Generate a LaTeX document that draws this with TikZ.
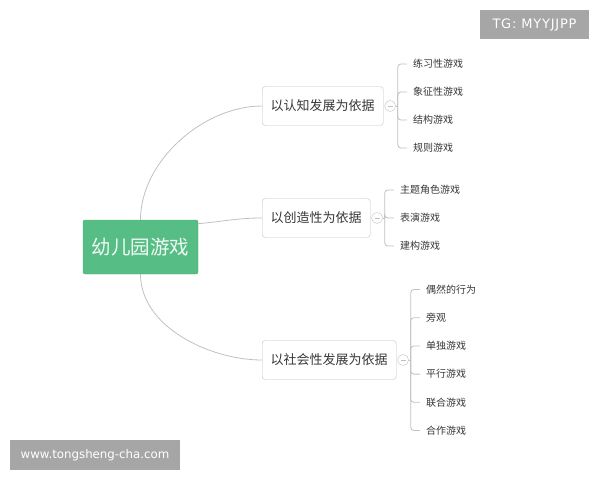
\documentclass[tikz,border=0pt]{standalone}
\usepackage{fontspec}
\newfontfamily\cjk{Noto Sans CJK SC}
\newfontfamily\wmfont{DejaVu Sans}
\usetikzlibrary{positioning}
\definecolor{rootgreen}{RGB}{86,189,133}
\definecolor{linegray}{RGB}{192,192,192}
\definecolor{textgray}{RGB}{55,55,55}
\definecolor{stampgray}{RGB}{166,166,166}

\begin{document}
\begin{tikzpicture}[x=1pt,y=-1pt,
  root/.style={fill=rootgreen,draw=rootgreen!92!black,rounded corners=2pt,
    text=white!92!rootgreen,font=\cjk\fontsize{19.5}{20}\selectfont,
    minimum width=115pt,minimum height=54pt},
  branch/.style={draw=linegray,rounded corners=3pt,fill=white,text=textgray,
    font=\cjk\fontsize{13}{13}\selectfont,minimum height=39pt,inner xsep=8.5pt},
  leaf/.style={anchor=west,text=textgray,font=\cjk\fontsize{10}{10}\selectfont,inner sep=1pt},
  fold/.style={circle,draw=linegray,inner sep=0pt,minimum size=11pt},
  link/.style={draw=linegray,line width=0.8pt},
  stamp/.style={fill=stampgray,text=white,inner sep=0pt}]
\useasboundingbox (0,0) rectangle (600,480);

% centre and the three groups
\node[root] (root) at (140.5,247) {幼儿园游戏};
\node[branch,anchor=west] (b1) at (262,106) {以认知发展为依据};
\node[branch,anchor=west] (b2) at (262,218) {以创造性为依据};
\node[branch,anchor=west] (b3) at (262,360) {以社会性发展为依据};

\draw[link] (root.north) to[out=90,in=180,looseness=0.9] (b1.west);
\draw[link] (root.22) to[out=5,in=180] (b2.west);
\draw[link] (root.south) to[out=-90,in=180,looseness=0.9] (b3.west);

% fold marks and spines
\foreach \b in {1,2,3}{
  \node[fold,right=1pt of b\b] (c\b) {};
  \coordinate[right=2pt of c\b] (s\b);
  \draw[link] (c\b.east) -- (s\b);
  \draw[linegray,line width=0.6pt] ([xshift=-2.5pt]c\b.center) -- ([xshift=2.5pt]c\b.center);
}

% leaves
\foreach \t [count=\i] in {练习性游戏,象征性游戏,结构游戏,规则游戏}{
  \node[leaf] (l1\i) at ([shift={(14,{(\i-2.5)*28})}]s1) {\t};
  \draw[link,rounded corners=3pt] (s1) |- ([xshift=-5pt]l1\i.west);
}
\foreach \t [count=\i] in {主题角色游戏,表演游戏,建构游戏}{
  \node[leaf] (l2\i) at ([shift={(14,{(\i-2)*28})}]s2) {\t};
  \draw[link,rounded corners=3pt] (s2) |- ([xshift=-5pt]l2\i.west);
}
\foreach \t [count=\i] in {偶然的行为,旁观,单独游戏,平行游戏,联合游戏,合作游戏}{
  \node[leaf] (l3\i) at ([shift={(14,{(\i-3.5)*28.2})}]s3) {\t};
  \draw[link,rounded corners=3pt] (s3) |- ([xshift=-5pt]l3\i.west);
}

% watermarks
\node[stamp,minimum width=109pt,minimum height=29pt,
  font=\wmfont\fontsize{13}{13}\selectfont\addfontfeatures{LetterSpace=6}] (tg) at (534.5,24.5) {TG: MYYJJPP};
\node[stamp,minimum width=170pt,minimum height=30pt,
  font=\wmfont\fontsize{11.8}{12}\selectfont] (site) at (95,455) {www.tongsheng-cha.com};
\end{tikzpicture}
\end{document}
